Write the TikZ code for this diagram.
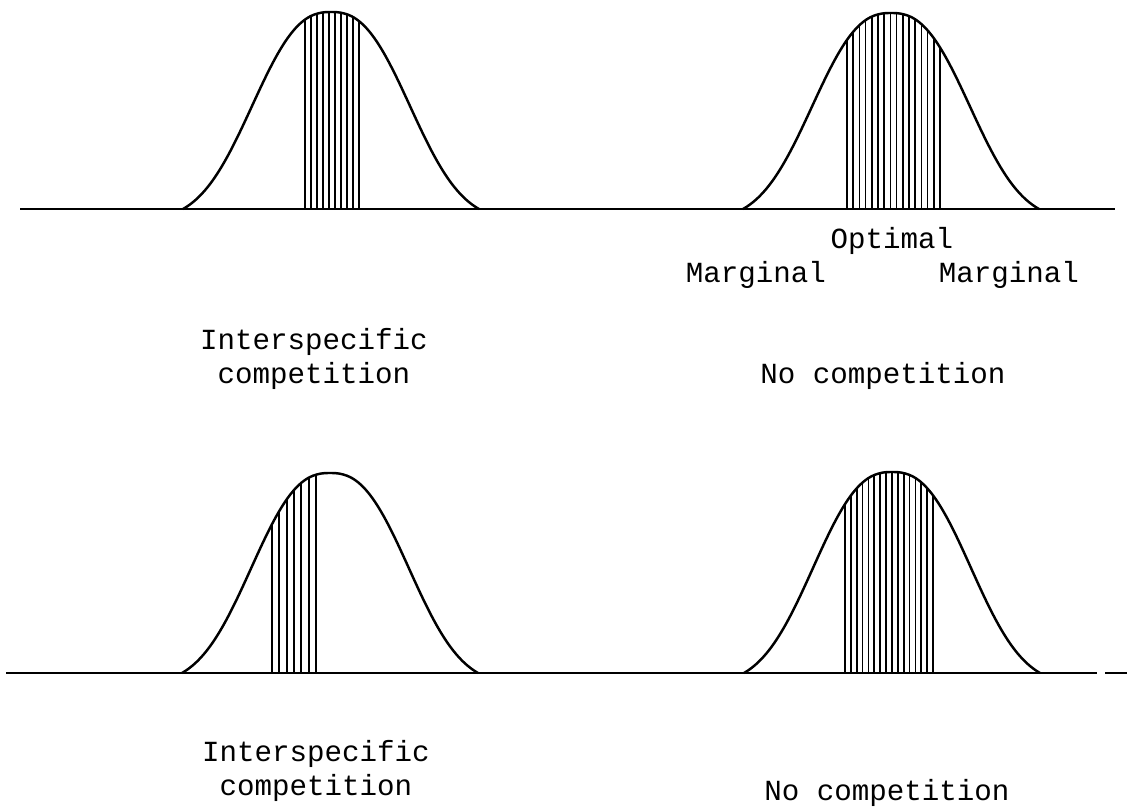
\documentclass[tikz,border=0pt]{standalone}
\usepackage{fontspec}
\usepackage{tikz}
\setmonofont{Liberation Mono}
\usetikzlibrary{calc}

\begin{document}
\begin{tikzpicture}[x=0.02cm, y=-0.02cm,
  declare function={bell(\t,\m)=max(0,(exp(-(abs((\t-\m)/97)+0.0001)^2.5)-0.0564)/(1-0.0564));},
  bellcurve/.style={line width=1.4pt, line join=round},
  hatchline/.style={line width=1pt},
  axisline/.style={line width=1.1pt},
  lbl/.style={font=\ttfamily\fontsize{16.6}{19.3}\selectfont, inner sep=0pt, anchor=base, align=center}]
\useasboundingbox (0,0) rectangle (1127,812);
% --- top row ---
\draw[axisline] (20,209) -- (1115,209);
\draw[bellcurve] plot[domain=183:479, samples=80, smooth, variable=\t] (\t, {209-197*bell(\t,331)});
\foreach \h in {305,311,...,359}
  \draw[hatchline] (\h,209) -- (\h, {209-197*bell(\h,331)});
\draw[bellcurve] plot[domain=743:1039, samples=80, smooth, variable=\t] (\t, {209-196*bell(\t,891)});
\foreach \h in {847,853.2,...,940.1}
  \draw[hatchline] (\h,209) -- (\h, {209-196*bell(\h,891)});
\node[lbl] (optimal) at (892,248) {Optimal};
\node[lbl] (margL) at (756,282) {Marginal};
\node[lbl] (margR) at (1009,282) {Marginal};
\node[lbl] (interTop) at (314,383) {Interspecific\\competition};
\node[lbl] (noneTop) at (883,383) {No competition};
% --- bottom row ---
\draw[axisline] (6,673) -- (1097,673);
\draw[axisline] (1105,673) -- (1127,673);
\draw[bellcurve] plot[domain=182:478, samples=80, smooth, variable=\t] (\t, {673-200*bell(\t,330)});
\foreach \h in {272,279.33,...,316.1}
  \draw[hatchline] (\h,673) -- (\h, {673-200*bell(\h,330)});
\draw[bellcurve] plot[domain=744:1040, samples=80, smooth, variable=\t] (\t, {673-201*bell(\t,892)});
\foreach \h in {845,850.87,...,933.1}
  \draw[hatchline] (\h,673) -- (\h, {673-201*bell(\h,892)});
\node[lbl] (interBot) at (316,795) {Interspecific\\competition};
\node[lbl] (noneBot) at (887,800) {No competition};
\end{tikzpicture}
\end{document}
